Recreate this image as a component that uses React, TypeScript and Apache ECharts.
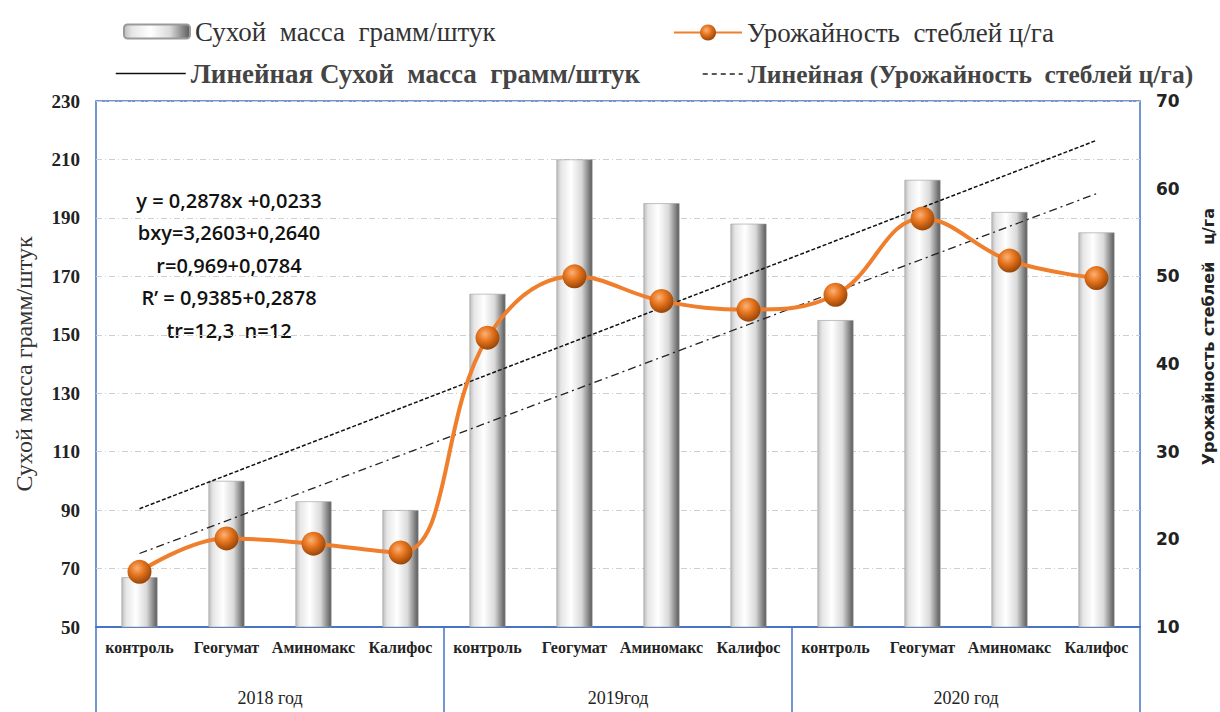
import React, { useEffect, useRef } from "react";
import * as echarts from "echarts";

const categories = [
  "контроль", "Геогумат", "Аминомакс", "Калифос",
  "контроль", "Геогумат", "Аминомакс", "Калифос",
  "контроль", "Геогумат", "Аминомакс", "Калифос",
];
const years = ["2018 год", "2019год", "2020 год"];
const dryMass = [67, 100, 93, 90, 164, 210, 195, 188, 155, 203, 192, 185];
const stemYield = [16.3, 20.1, 19.5, 18.5, 43.0, 50.0, 47.2, 46.2, 47.9, 56.6, 51.8, 49.8];
const leftTicks = { min: 50, max: 230, interval: 20 };
const rightTicks = { min: 10, max: 70, interval: 10 };
const statsLines = [
  "y = 0,2878x +0,0233",
  "bxy=3,2603+0,2640",
  "r=0,969+0,0784",
  "R’ = 0,9385+0,2878",
  "tr=12,3  n=12",
];
const names = {
  bar: "Сухой  масса  грамм/штук",
  line: "Урожайность  стеблей ц/га",
  trendBar: "Линейная Сухой  масса  грамм/штук",
  trendLine: "Линейная (Урожайность  стеблей ц/га)",
  leftAxis: "Сухой масса грамм/штук",
  rightAxis: "Урожайность стеблей   ц/га",
};

function linearTrend(values: number[]): number[] {
  const n = values.length;
  const xs = values.map((_, i) => i + 1);
  const mx = xs.reduce((a, b) => a + b, 0) / n;
  const my = values.reduce((a, b) => a + b, 0) / n;
  let sxy = 0, sxx = 0;
  for (let i = 0; i < n; i++) {
    sxy += (xs[i] - mx) * (values[i] - my);
    sxx += (xs[i] - mx) * (xs[i] - mx);
  }
  const b = sxy / sxx;
  const a = my - b * mx;
  return xs.map((x) => +(a + b * x).toFixed(3));
}

export default function App() {
  const ref = useRef<HTMLDivElement>(null);
  useEffect(() => {
    if (!ref.current) return;
    const chart = echarts.init(ref.current, undefined, { renderer: "svg" });
    const barGradient = new echarts.graphic.LinearGradient(0, 0, 1, 0, [
      { offset: 0, color: "#bdbdbd" },
      { offset: 0.12, color: "#e6e6e6" },
      { offset: 0.4, color: "#ffffff" },
      { offset: 0.7, color: "#d9d9d9" },
      { offset: 0.88, color: "#8c8c8c" },
      { offset: 1, color: "#5a5a5a" },
    ]);
    const markerGradient = new echarts.graphic.RadialGradient(0.4, 0.35, 0.65, [
      { offset: 0, color: "#f9b27a" },
      { offset: 0.45, color: "#e8761f" },
      { offset: 1, color: "#9a4608" },
    ]);
    const serif = "'Liberation Serif', 'Times New Roman', serif";
    const legendText = { fontFamily: serif, fontSize: 27, color: "#333" };
    const option: any = {
      animation: false,
      backgroundColor: "#ffffff",
      grid: {
        left: 96, right: 80, top: 101, bottom: 85,
        show: true, borderColor: "#4472C4", borderWidth: 1.5,
      },
      legend: [
        { data: [names.bar], left: 118, top: 13, itemWidth: 66, itemHeight: 14, textStyle: legendText, selectedMode: false },
        { data: [names.line], left: 668, top: 14, itemWidth: 68, itemHeight: 20, textStyle: legendText, selectedMode: false },
        {
          data: [names.trendBar], left: 110, top: 55, itemWidth: 70, itemHeight: 14,
          itemStyle: { opacity: 0 }, lineStyle: { type: "solid", width: 1.5, color: "#111" },
          textStyle: { ...legendText, fontWeight: "bold", color: "#444" }, selectedMode: false,
        },
        {
          data: [names.trendLine], left: 697, top: 56, itemWidth: 40, itemHeight: 14,
          itemStyle: { opacity: 0 }, lineStyle: { type: [5, 4], width: 1.5, color: "#222" },
          textStyle: { ...legendText, fontSize: 25.5, fontWeight: "bold", color: "#444" }, selectedMode: false,
        },
      ],
      xAxis: [
        {
          type: "category", data: categories, position: "bottom",
          axisLine: { show: true, lineStyle: { color: "#4472C4", width: 1.5 } },
          axisTick: { show: false },
          axisLabel: { interval: 0, margin: 12, fontFamily: serif, fontSize: 16, fontWeight: "bold", color: "#222" },
        },
        {
          type: "category", data: years, position: "bottom",
          axisLine: { show: true, lineStyle: { color: "#4472C4", width: 1.5 } },
          axisTick: { show: true, length: 85, interval: 0, lineStyle: { color: "#4472C4", width: 1.5 } },
          axisLabel: { interval: 0, margin: 62, fontFamily: serif, fontSize: 18, color: "#222" },
        },
      ],
      yAxis: [
        {
          type: "value", ...leftTicks, position: "left",
          name: names.leftAxis, nameLocation: "middle", nameGap: 60,
          nameTextStyle: { fontFamily: serif, fontSize: 24, color: "#333" },
          axisLine: { show: false }, axisTick: { show: false },
          axisLabel: { margin: 16, fontFamily: serif, fontSize: 19, fontWeight: "bold", color: "#222" },
          splitLine: { show: true, lineStyle: { color: "#cfcfcf", type: [6, 3, 1, 3], width: 1 } },
        },
        {
          type: "value", ...rightTicks, position: "right",
          axisLine: { show: false }, axisTick: { show: false },
          axisLabel: { margin: 16, fontFamily: "'DejaVu Sans', Verdana, sans-serif", fontSize: 17, fontWeight: "bold", color: "#222" },
          splitLine: { show: false },
        },
      ],
      series: [
        {
          name: names.bar, type: "bar", data: dryMass, xAxisIndex: 0, yAxisIndex: 0,
          barWidth: 36, itemStyle: { color: barGradient, borderColor: "#9a9a9a", borderWidth: 0.6 },
        },
        {
          name: names.trendBar, type: "line", data: linearTrend(dryMass), xAxisIndex: 0, yAxisIndex: 0,
          symbol: "none", lineStyle: { color: "#111", width: 1.5, type: [4, 2] }, itemStyle: { color: "#111" },
          z: 3,
        },
        {
          name: names.trendLine, type: "line", data: linearTrend(stemYield), xAxisIndex: 0, yAxisIndex: 1,
          symbol: "none", lineStyle: { color: "#222", width: 1.3, type: [8, 4, 2, 4] }, itemStyle: { color: "#222" },
          z: 3,
        },
        {
          name: names.line, type: "line", data: stemYield, xAxisIndex: 0, yAxisIndex: 1,
          smooth: 0.4, symbol: "circle", symbolSize: 24,
          lineStyle: { color: "#EF7F2D", width: 4 },
          itemStyle: { color: markerGradient, borderWidth: 0 },
          z: 5,
        },
      ],
      graphic: [
        {
          type: "text", left: 1200, top: 208,
          rotation: Math.PI / 2,
          style: {
            text: names.rightAxis,
            fontFamily: "'DejaVu Sans', Verdana, sans-serif", fontSize: 16, fontWeight: "bold", fill: "#222",
          },
        },
        ...statsLines.map((t, i) => ({
          type: "text", x: 229, y: 200 + i * 32.5,
          style: {
            text: t, align: "center", verticalAlign: "middle",
            fontFamily: "'Open Sans', 'Noto Sans', sans-serif", fontSize: 20, fontWeight: 600, fill: "#111",
          },
        })),
      ],
    };
    chart.setOption(option);
    return () => chart.dispose();
  }, []);
  return <div ref={ref} style={{ position: "fixed", left: 0, top: 0, width: 1220, height: 712 }} />;
}
